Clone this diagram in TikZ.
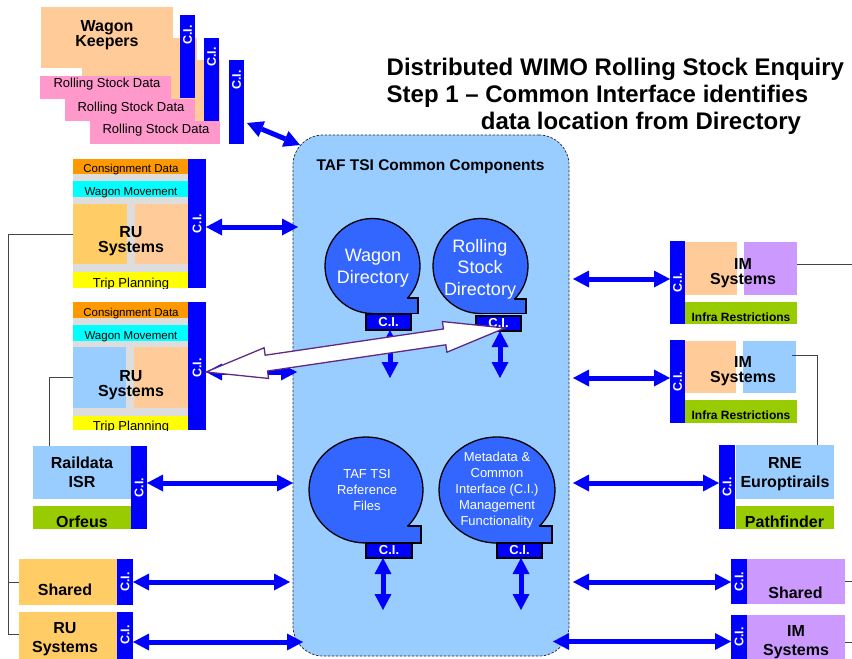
\documentclass[tikz,border=0pt]{standalone}
\usepackage{fontspec}
\setmainfont{Liberation Sans}
\usetikzlibrary{arrows.meta,calc,shapes.geometric}
\definecolor{ciblue}{HTML}{0000FF}
\definecolor{peach}{HTML}{FFCC99}
\definecolor{gold}{HTML}{FFCC66}
\definecolor{consig}{HTML}{FF9900}
\definecolor{cyanb}{HTML}{00FFFF}
\definecolor{graybg}{HTML}{DDDDDD}
\definecolor{yel}{HTML}{FFFF00}
\definecolor{lblue}{HTML}{99CCFF}
\definecolor{lgreen}{HTML}{99CC00}
\definecolor{lpurple}{HTML}{CC99FF}
\definecolor{pinkb}{HTML}{FF99CC}
\definecolor{bubble}{HTML}{3366FF}
\definecolor{wline}{HTML}{5E2A84}
\definecolor{conncol}{HTML}{444444}
\newcommand\bx[7]{\node[#6,anchor=north west,minimum width={(#4)-(#2)},minimum height={(#5)-(#3)}] (#1) at (#2,#3) {#7};}
\newcommand\bub[7]{%
  \node[bubshape,minimum width={2*(#4)},minimum height={2*(#5)}] (#1) at (#2,#3) {};
  \fill[bubble] (#2,#7) rectangle (#6,{#3+#5});
  \draw[bubline] (#2,{#3+#5}) -- (#6,{#3+#5}) -- (#6,#7) -- ({#2+#4*sqrt(1-((#7-#3)/#5)^2)},#7);}
\tikzset{
  box/.style={rectangle,inner sep=0pt,outer sep=0pt,draw=none},
  cibar/.style={box,fill=ciblue},
  citext/.style={text=white,inner sep=0pt,rotate=90,font=\fontsize{12.5}{13}\selectfont\bfseries},
  smallci/.style={box,fill=ciblue,draw=black,line width=1.2pt,text=white,font=\fontsize{13}{13}\selectfont\bfseries},
  blab/.style={align=center,inner sep=0pt,font=\fontsize{16}{#1}\selectfont\bfseries},
  blab/.default=15,
  rlab/.style={inner sep=0pt,font=\fontsize{#1}{#1}\selectfont},
  ilab/.style={inner sep=0pt,font=\fontsize{12}{12}\selectfont\bfseries},
  title/.style={inner sep=0pt,font=\fontsize{24}{27.5}\selectfont\bfseries},
  cont/.style={box,fill=lblue,draw=black!85,line width=0.7pt,dash pattern=on 2.5pt off 1.5pt,rounded corners=30pt},
  bubshape/.style={ellipse,inner sep=0pt,outer sep=0pt,fill=bubble,draw=black,line width=1.3pt},
  bubline/.style={draw=black,line width=1.3pt,line cap=round,line join=miter},
  bubbig/.style={align=center,inner sep=0pt,text=white,font=\fontsize{18}{21.5}\selectfont},
  bubsmall/.style={align=center,inner sep=0pt,text=white,font=\fontsize{13}{16}\selectfont},
  barrow/.style={draw=ciblue,line width=5pt,{Triangle[width=17pt,length=16pt,line width=0pt]}-{Triangle[width=17pt,length=16pt,line width=0pt]}},
  warrow/.style={fill=white,draw=wline,line width=1.3pt,line join=miter},
  link/.style={draw=conncol,line width=1pt}
}
\begin{document}
\begin{tikzpicture}[x=1pt,y=-1pt]
\useasboundingbox (0,0) rectangle (852,659);
\clip (0,0) rectangle (852,659);
\fill[white] (0,0) rectangle (852,659);

% ---------- central container ----------
\node[cont,anchor=north west,minimum width=276,minimum height=521] (cont) at (293,135) {};
\node[inner sep=0pt,font=\fontsize{15.5}{16}\selectfont\bfseries,anchor=base] (ctitle) at (430.5,170.7) {TAF TSI Common Components};

% ---------- title ----------
\node[title,anchor=base west] (t1) at (386.5,75) {Distributed WIMO Rolling Stock Enquiry};
\node[title,anchor=base west] (t2) at (386.5,102.7) {Step 1 – Common Interface identifies};
\node[title,anchor=base west] (t3) at (480.7,129.3) {data location from Directory};

% ---------- Wagon keepers stack ----------
\bx{wkc}{123}{60}{220}{121}{box,fill=peach}{}
\bx{rsd3}{90}{121}{220}{144}{box,fill=pinkb}{}
\bx{wkci3}{229}{60}{244}{144}{cibar}{}
\bx{wkb}{82}{38}{197}{99}{box,fill=peach}{}
\bx{rsd2}{65}{99}{195}{121}{box,fill=pinkb}{}
\bx{wkci2}{204}{38}{219}{121}{cibar}{}
\bx{wka}{41}{7}{173}{68}{box,fill=peach}{}
\bx{rsd1}{40}{76}{171}{99}{box,fill=pinkb}{}
\bx{wkci1}{180}{15}{195}{98}{cibar}{}
\node[rlab=13,anchor=base] (rsd1t) at (107,87.3) {Rolling Stock Data};
\node[rlab=13,anchor=base] (rsd2t) at (131,111) {Rolling Stock Data};
\node[rlab=13,anchor=base] (rsd3t) at (156,133.3) {Rolling Stock Data};
\node[blab] (wkt) at (107,35.5) {Wagon\\Keepers};
\node[citext] (wkci1t) at ($(wkci1.north)+(0,20)$) {C.I.};
\node[citext] (wkci2t) at ($(wkci2.north)+(0,19)$) {C.I.};
\node[citext] (wkci3t) at ($(wkci3.north)+(0,20)$) {C.I.};

% ---------- RU block 1 ----------
\bx{ru1bg}{73}{159}{188}{288}{box,fill=graybg}{}
\bx{ru1cd}{73}{159}{188}{174}{box,fill=consig}{}
\bx{ru1wm}{73}{181}{188}{197}{box,fill=cyanb}{}
\bx{ru1l}{73}{204}{127}{264}{box,fill=gold}{}
\bx{ru1r}{135}{204}{188}{264}{box,fill=peach}{}
\bx{ru1tp}{73}{272}{188}{288}{box,fill=yel}{}
\bx{ru1ci}{188}{159}{206}{288}{cibar}{}
\node[rlab=11.5,anchor=base] (ru1cdt) at (131,172.7) {Consignment Data};
\node[rlab=11.5,anchor=base] (ru1wmt) at (131,195.7) {Wagon Movement};
\begin{scope}
\clip (73,272) rectangle (188,288);
\node[rlab=13,anchor=base] (ru1tpt) at (131,287.5) {Trip Planning};
\end{scope}
\node[blab] (ru1t) at (131,241.5) {RU\\Systems};
\node[citext] (ru1cit) at (ru1ci.center) {C.I.};

% ---------- RU block 2 ----------
\bx{ru2bg}{73}{302}{188}{430}{box,fill=graybg}{}
\bx{ru2cd}{73}{302}{188}{318}{box,fill=consig}{}
\bx{ru2wm}{73}{325}{188}{341}{box,fill=cyanb}{}
\bx{ru2l}{73}{347}{126}{408}{box,fill=lblue}{}
\bx{ru2r}{134}{347}{188}{408}{box,fill=peach}{}
\bx{ru2tp}{73}{416}{188}{430}{box,fill=yel}{}
\bx{ru2ci}{188}{302}{206}{430}{cibar}{}
\node[rlab=11.5,anchor=base] (ru2cdt) at (131,316.7) {Consignment Data};
\node[rlab=11.5,anchor=base] (ru2wmt) at (131,339.3) {Wagon Movement};
\begin{scope}
\clip (73,416) rectangle (188,430);
\node[rlab=13,anchor=base] (ru2tpt) at (131,430) {Trip Planning};
\end{scope}
\node[blab] (ru2t) at (131,384.7) {RU\\Systems};
\node[citext] (ru2cit) at ($(ru2ci.center)+(0,2)$) {C.I.};

% ---------- Raildata ISR ----------
\bx{rd}{33}{446}{131}{499}{box,fill=lblue}{}
\bx{orf}{33}{506}{131}{529}{box,fill=lgreen}{}
\bx{rdci}{131}{446}{147}{529}{cibar}{}
\node[blab=19] (rdt) at (82,472.7) {Raildata\\ISR};
\node[blab,anchor=base] (orft) at (82,527) {Orfeus};
\node[citext] (rdcit) at (rdci.center) {C.I.};

% ---------- Shared (left) ----------
\bx{shl}{19}{559}{117}{605}{box,fill=gold}{}
\bx{shlci}{117}{559}{133}{605}{cibar}{}
\node[blab,anchor=base] (shlt) at (65,595) {Shared};
\node[citext] (shlcit) at (shlci.center) {C.I.};

% ---------- RU Systems (bottom left) ----------
\bx{rub}{19}{612}{117}{665}{box,fill=gold}{}
\bx{rubci}{117}{612}{133}{665}{cibar}{}
\node[blab=19] (rubt) at (65,639.5) {RU\\Systems};
\node[citext] (rubcit) at ($(rubci.center)+(0,-3.5)$) {C.I.};

% ---------- IM block 1 ----------
\bx{im1ci}{670}{241}{685}{324}{cibar}{}
\bx{im1o}{685}{242}{737}{295}{box,fill=peach}{}
\bx{im1p}{744}{242}{797}{295}{box,fill=lpurple}{}
\bx{im1g}{685}{302}{797}{324}{box,fill=lgreen}{}
\node[blab] (im1t) at (743,273.5) {IM\\Systems};
\node[ilab,anchor=base] (im1gt) at (741,321) {Infra Restrictions};
\node[citext] (im1cit) at (im1ci.center) {C.I.};

% ---------- IM block 2 ----------
\bx{im2ci}{670}{340}{685}{423}{cibar}{}
\bx{im2o}{685}{341}{736}{393}{box,fill=peach}{}
\bx{im2b}{743}{341}{796}{393}{box,fill=lblue}{}
\bx{im2g}{685}{400}{797}{423}{box,fill=lgreen}{}
\node[blab] (im2t) at (743,371.5) {IM\\Systems};
\node[ilab,anchor=base] (im2gt) at (741,419.3) {Infra Restrictions};
\node[citext] (im2cit) at (im2ci.center) {C.I.};

% ---------- RNE ----------
\bx{rneci}{719}{445}{735}{529}{cibar}{}
\bx{rne}{736}{445}{834}{499}{box,fill=lblue}{}
\bx{pf}{736}{506}{834}{529}{box,fill=lgreen}{}
\node[blab=19] (rnet) at (785,474.5) {RNE\\Europtirails};
\node[blab,anchor=base] (pft) at (784.5,527) {Pathfinder};
\node[citext] (rnecit) at (rneci.center) {C.I.};

% ---------- Shared (right) ----------
\bx{shrci}{731}{559}{747}{604}{cibar}{}
\bx{shr}{747}{559}{845}{604}{box,fill=lpurple}{}
\node[blab,anchor=base] (shrt) at (795.5,598) {Shared};
\node[citext] (shrcit) at (shrci.center) {C.I.};

% ---------- IM Systems (bottom right) ----------
\bx{imbci}{731}{615}{747}{665}{cibar}{}
\bx{imb}{747}{615}{845}{665}{box,fill=lpurple}{}
\node[blab=19] (imbt) at (796,642.5) {IM\\Systems};
\node[citext] (imbcit) at ($(imbci.center)+(0,-3)$) {C.I.};

% ---------- thin connectors ----------
\draw[link] (ru1l.west) -| ($(rub.west)+(-11,-4.5)$) -- ($(rub.west)+(0,-4.5)$);
\draw[link] (shl.west) -- ++(-11,0);
\draw[link] (ru2l.west) -| ($(rd.north west)+(16,0)$);
\draw[link] ($(im1p.east)+(0,-4.5)$) -- ++(60,0);
\draw[link] ($(im2b.east)+(-4,-12)$) -| ($(rne.north east)+(-17,0)$);
\draw[link] (shr.east) -- ++(10,0);
\draw[link] ($(imb.east)+(0,2)$) -- ++(10,0);

% ---------- directory bubbles ----------
\bub{wd}{372.5}{266}{47.5}{47.5}{418}{298}
\node[bubbig] (wdt) at (373,268) {Wagon\\Directory};
\bub{rsd}{480.5}{266}{47.5}{47.5}{526}{299}
\node[bubbig] (rsdt) at (480,269) {Rolling\\Stock\\Directory};
\bub{tf}{366}{490}{57}{53}{421}{526}
\node[bubsmall] (tft) at (367,490) {TAF TSI\\Reference\\Files};
\bub{md}{497}{490}{58}{53}{552}{526}
\node[bubsmall] (mdt) at (497,490.5) {Metadata \&\\Common\\Interface (C.I.)\\Management\\Functionality};

\bx{wdci}{366}{314}{411}{330}{smallci}{C.I.}
\bx{rsci}{476}{316}{521}{331}{smallci}{C.I.}
\bx{tfci}{366}{543}{412}{558}{smallci}{C.I.}
\bx{mdci}{497}{543}{542}{558}{smallci}{C.I.}

% ---------- blue double arrows ----------
\draw[barrow] ($(wkci3.south east)+(3,-21)$) -- ($(cont.north west)+(7,10)$);
\draw[barrow] ($(ru1ci.east)+(0,3.5)$) -- ($(ru1ci.east -| cont.west)+(5,3.5)$);
\draw[barrow] ($(ru2ci.east)+(0,6)$) -- ($(ru2ci.east -| cont.west)+(4,6)$);
\draw[barrow] ($(rdci.east)+(0,-4.5)$) -- ($(rdci.east -| cont.west)+(0,-4.5)$);
\draw[barrow] (shlci.east) -- ($(shlci.east -| cont.west)+(-3,0)$);
\draw[barrow] ($(rubci.east)+(0,3.5)$) -- ($(rubci.east -| cont.west)+(10,3.5)$);
\draw[barrow] ($(im1ci.west -| cont.east)+(4,-3.5)$) -- ($(im1ci.west)+(0,-3.5)$);
\draw[barrow] ($(im2ci.west -| cont.east)+(4,-3.5)$) -- ($(im2ci.west)+(0,-3.5)$);
\draw[barrow] ($(rneci.west -| cont.east)+(4,-4)$) -- ($(rneci.west)+(0,-4)$);
\draw[barrow] ($(shrci.west -| cont.east)+(4,0.5)$) -- ($(shrci.west)+(0,0.5)$);
\draw[barrow] ($(imbci.west -| cont.east)+(-16,1.5)$) -- ($(imbci.west)+(0,1.5)$);
\draw[barrow] ($(wdci.south)+(1.5,0)$) -- ++(0,48);
\draw[barrow] ($(rsci.south)+(1.5,0)$) -- ++(0,47);
\draw[barrow] ($(tfci.south)+(-6,0)$) -- ++(0,52);
\draw[barrow] ($(mdci.south)+(1.5,0)$) -- ++(0,52);

% ---------- white enquiry arrow ----------
\coordinate (wa) at ($(ru2ci.east)+(0,6)$);
\coordinate (wb) at ($(rsci.center)+(6.5,4.5)$);
\draw[warrow] (wa)
  -- ($(wa)!61pt!(wb)!15.5pt!90:(wb)$)
  -- ($(wa)!61pt!(wb)!8pt!90:(wb)$)
  -- ($(wb)!61pt!(wa)!8pt!-90:(wa)$)
  -- ($(wb)!61pt!(wa)!15.5pt!-90:(wa)$)
  -- (wb)
  -- ($(wb)!61pt!(wa)!15.5pt!90:(wa)$)
  -- ($(wb)!61pt!(wa)!8pt!90:(wa)$)
  -- ($(wa)!61pt!(wb)!8pt!-90:(wb)$)
  -- ($(wa)!61pt!(wb)!15.5pt!-90:(wb)$)
  -- cycle;
\end{tikzpicture}
\end{document}
